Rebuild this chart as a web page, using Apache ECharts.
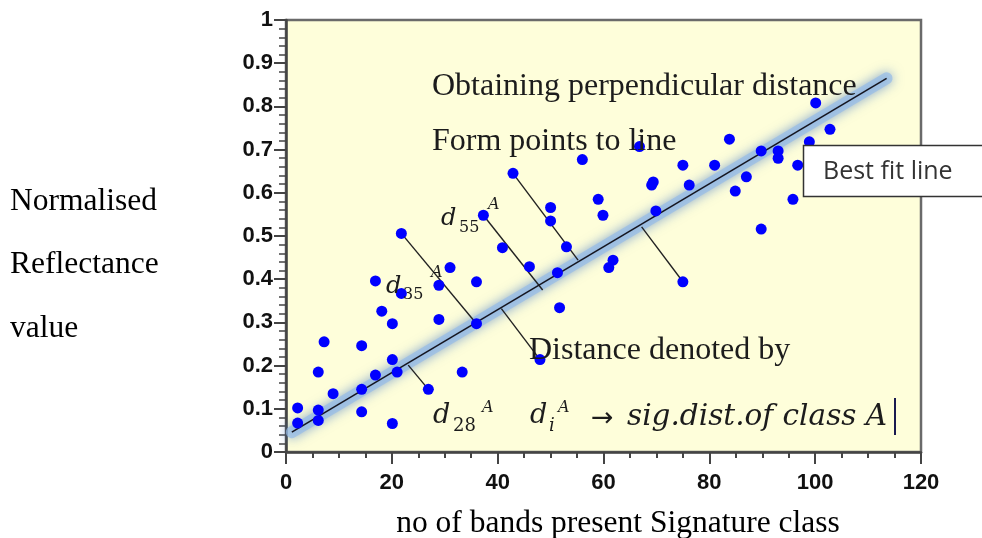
<!DOCTYPE html>
<html><head><meta charset="utf-8">
<script src="https://cdn.jsdelivr.net/npm/echarts@6/dist/echarts.min.js"></script>
<style>html,body{margin:0;padding:0;background:#fff}#c{width:982px;height:538px}</style>
</head><body><div id="c"></div>
<script>
// Scatter points (no of bands, normalised reflectance)
const pointsX = [2.2, 2.2, 6.1, 6.1, 6.1, 7.2, 8.9, 14.3, 14.3, 14.3, 16.9, 16.9, 18.1, 20.1, 20.1, 21.0, 20.1, 21.8, 21.8, 26.9,
  28.9, 28.9, 31.0, 33.3, 36.0, 36.0, 37.3, 40.9, 42.9, 46.0, 48.0, 50.0, 50.0, 51.3, 51.7, 53.0, 56.0, 59.0, 59.9, 61.0,
  61.8, 66.8, 69.1, 69.4, 69.9, 75.0, 76.2, 75.0, 81.0, 83.8, 84.9, 87.0, 89.8, 89.8, 93.0, 93.0, 95.8, 96.7, 98.9, 100.1, 102.8];
const pointsY = [0.102, 0.067, 0.097, 0.073, 0.185, 0.255, 0.135, 0.246, 0.145, 0.093, 0.396, 0.178, 0.326, 0.297, 0.214, 0.185, 0.066, 0.506, 0.367, 0.145,
  0.386, 0.307, 0.427, 0.185, 0.394, 0.297, 0.548, 0.473, 0.645, 0.429, 0.214, 0.566, 0.535, 0.415, 0.334, 0.475, 0.677, 0.585, 0.548, 0.427,
  0.444, 0.707, 0.618, 0.625, 0.558, 0.664, 0.618, 0.394, 0.664, 0.724, 0.604, 0.637, 0.697, 0.516, 0.697, 0.680, 0.585, 0.664, 0.718, 0.808, 0.747];
// Best fit line end points
const fitX = [1.1, 113.5];
const fitY = [0.046, 0.865];
// Perpendicular distance segments
const segStartX = [21.8, 37.3, 42.9, 40.7, 23.1, 67.2];
const segStartY = [0.506, 0.548, 0.645, 0.332, 0.201, 0.521];
const segEndX = [36.0, 48.5, 55.2, 48.0, 26.9, 75.0];
const segEndY = [0.297, 0.375, 0.444, 0.214, 0.145, 0.394];
// Axes
const xTickValues = [0, 20, 40, 60, 80, 100, 120];
const yTickValues = [0, 0.1, 0.2, 0.3, 0.4, 0.5, 0.6, 0.7, 0.8, 0.9, 1];
const yTitleLines = ['Normalised', 'Reflectance', 'value'];
const xTitle = 'no of bands present Signature class';

const chart = echarts.init(document.getElementById('c'), null, {renderer: 'canvas'});

const SERIF = '"Liberation Serif", "Times New Roman", serif';
const MATH = '"DejaVu Serif", serif';
function txt(text, x, baseline, size, family, extra, z) {
  return {
    type: 'text', x: x, y: baseline - size * 0.33, z: z || 50,
    style: Object.assign({
      text: text, fill: '#1c1c1c', font: size + 'px ' + family,
      align: 'left', verticalAlign: 'middle', textAlign: 'left', textVerticalAlign: 'middle'
    }, extra || {})
  };
}
function itxt(text, x, baseline, size) {
  return txt(text, x, baseline, size, MATH, {font: 'italic ' + size + 'px ' + MATH});
}

const graphics = [];
yTitleLines.forEach(function (t, i) { graphics.push(txt(t, 10, 211.7 + i * 63.5, 31.5, SERIF, {fill: '#000'})); });
graphics.push(txt(xTitle, 618, 534, 31.5, SERIF, {fill: '#000', align: 'center', textAlign: 'center'}));
graphics.push(txt('Obtaining perpendicular distance', 432, 96.7, 32, SERIF));
graphics.push(txt('Form points to line', 432, 151.7, 32, SERIF));
graphics.push(txt('Distance denoted by', 529, 361.5, 32, SERIF));
// d labels
[[441, 227, '55', 459, 233, 488, 210, 24, 16],
 [386, 295, '35', 403, 300, 431, 278, 24, 16],
 [433, 425, '28', 453, 432, 482, 413, 27, 18],
 [530, 425, 'i', 549, 432, 558, 413, 27, 18]].forEach(function (d) {
  graphics.push(itxt('d', d[0], d[1], d[7]));
  graphics.push(d[2] === 'i' ? itxt('i', d[3], d[4], d[8]) : txt(d[2], d[3], d[4], d[8], MATH));
  graphics.push(itxt('A', d[5], d[6], 16));
});
graphics.push(txt('\u2192', 591, 428, 27, '"DejaVu Sans", sans-serif'));
graphics.push(itxt('sig.dist.of class A', 627, 427, 29.5));
graphics.push({type: 'rect', z: 50, shape: {x: 894, y: 398, width: 2, height: 37}, style: {fill: '#1a1a50'}});
// Best fit line box
graphics.push({type: 'rect', z: 60, shape: {x: 803.5, y: 145.5, width: 200, height: 51}, style: {fill: '#fff', stroke: '#333', lineWidth: 1.5}});
graphics.push(txt('Best fit line', 823, 180, 25, '"Open Sans", "Noto Sans", sans-serif', {fill: '#333'}, 61));

const segData = segStartX.map(function (x, i) {
  return {coords: [[x, segStartY[i]], [segEndX[i], segEndY[i]]]};
});

const axisLabelStyle = {fontFamily: '"Liberation Sans", Arial, sans-serif', fontWeight: 'bold', fontSize: 22, color: '#111'};

chart.setOption({
  animation: false,
  grid: {left: 286, right: 61, top: 20, bottom: 86, show: true, backgroundColor: '#FEFEDA', borderColor: '#6a6a6a', borderWidth: 2.5},
  xAxis: {
    type: 'value', min: xTickValues[0], max: xTickValues[xTickValues.length - 1], interval: 20,
    axisLine: {show: true, onZero: false, lineStyle: {color: '#444', width: 2.5}},
    axisTick: {show: true, length: 12, lineStyle: {color: '#444', width: 2}},
    minorTick: {show: true, splitNumber: 4, length: 6, lineStyle: {color: '#444', width: 2}},
    splitLine: {show: false},
    axisLabel: Object.assign({margin: 20}, axisLabelStyle)
  },
  yAxis: {
    type: 'value', min: yTickValues[0], max: yTickValues[yTickValues.length - 1], interval: 0.1,
    axisLine: {show: true, onZero: false, lineStyle: {color: '#444', width: 2.5}},
    axisTick: {show: true, length: 12, lineStyle: {color: '#444', width: 2}},
    minorTick: {show: true, splitNumber: 5, length: 7, lineStyle: {color: '#444', width: 1.5}},
    splitLine: {show: false},
    axisLabel: Object.assign({margin: 13}, axisLabelStyle)
  },
  graphic: graphics,
  series: [
    {type: 'line', data: fitX.map(function (x, i) { return [x, fitY[i]]; }), symbol: 'none', silent: true, z: 2,
     lineStyle: {width: 12, color: 'rgba(150,188,232,0.7)', cap: 'round', shadowBlur: 12, shadowColor: 'rgba(70,120,200,0.9)'}},
    {type: 'lines', coordinateSystem: 'cartesian2d', data: segData, silent: true, z: 3,
     lineStyle: {color: '#222', width: 1.4, opacity: 1}},
    {type: 'line', data: fitX.map(function (x, i) { return [x, fitY[i]]; }), symbol: 'none', silent: true, z: 4,
     lineStyle: {width: 1.6, color: '#151520'}},
    {type: 'scatter', data: pointsX.map(function (x, i) { return [x, pointsY[i]]; }), symbolSize: 11, z: 5,
     itemStyle: {color: '#0000FF', opacity: 1}}
  ]
});
</script></body></html>
